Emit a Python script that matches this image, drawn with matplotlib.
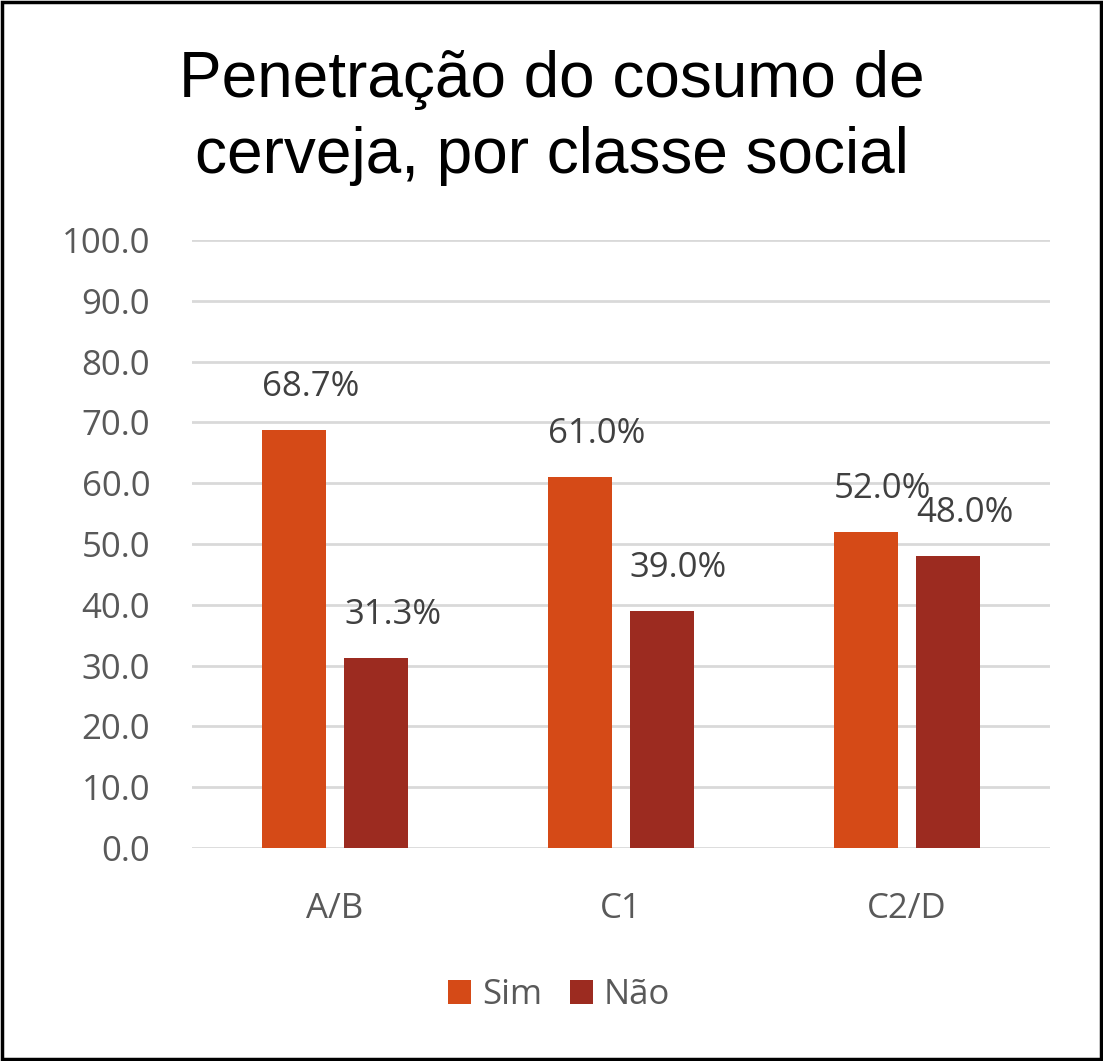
import numpy as np
import matplotlib.pyplot as plt
from matplotlib.patches import Rectangle

# dados
classes = ['A/B', 'C1', 'C2/D']
sim = [68.7, 61.0, 52.0]
nao = [31.3, 39.0, 48.0]
series_names = ['Sim', 'Não']
cores = ['#D54A17', '#9C2B20']

plt.rcParams['font.family'] = ['Open Sans', 'DejaVu Sans']

fig = plt.figure(figsize=(11.03, 10.61), dpi=100)
ax = fig.add_axes([0.174, 0.2008, 0.778, 0.573])

x = np.arange(len(classes))
w = 0.224
off = 0.143
b1 = ax.bar(x - off, sim, w, color=cores[0], label=series_names[0], zorder=3)
b2 = ax.bar(x + off, nao, w, color=cores[1], label=series_names[1], zorder=3)

for bars in (b1, b2):
    for r in bars:
        v = r.get_height()
        ax.annotate(f'{v:.1f}%', (r.get_x() + r.get_width() / 2, v),
                    xytext=(12, 31), textcoords='offset points',
                    ha='center', va='center', fontsize=25, color='#404040')

ax.set_xlim(-0.5, 2.5)
ax.set_ylim(0, 100)
ax.set_yticks(np.arange(0, 101, 10))
ax.set_yticklabels([f'{t:.1f}' for t in np.arange(0, 101, 10)])
ax.set_xticks(x)
ax.set_xticklabels(classes)
ax.tick_params(axis='y', length=0, pad=30, labelsize=25, labelcolor='#595959')
ax.tick_params(axis='x', length=0, pad=32, labelsize=25, labelcolor='#595959')
ax.grid(axis='y', color='#D9D9D9', linewidth=2, zorder=0)
for s in ax.spines.values():
    s.set_visible(False)

fig.text(0.5, 0.889, 'Penetração do cosumo de\ncerveja, por classe social',
         ha='center', va='center', fontsize=46, color='black',
         family='Liberation Sans', linespacing=1.35)

fig.legend(loc='center', bbox_to_anchor=(0.507, 0.062), ncol=2, frameon=False,
           fontsize=25, labelcolor='#595959', handlelength=0.65, handleheight=0.65,
           handletextpad=0.32, columnspacing=0.8)

fig.patches.append(Rectangle((0.002, 0.002), 0.996, 0.996, transform=fig.transFigure,
                             fill=False, edgecolor='black', linewidth=2.5))

fig.savefig('out.png', dpi=100)
